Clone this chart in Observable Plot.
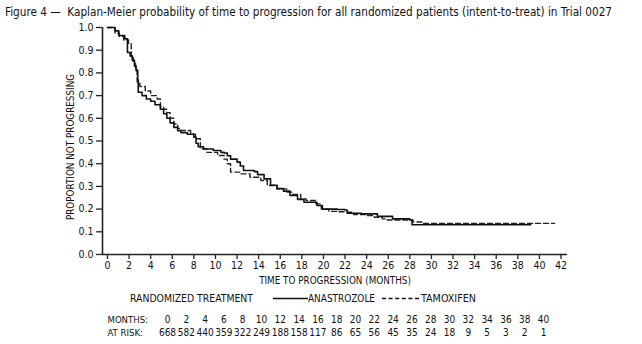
<!DOCTYPE html>
<html><head><meta charset="utf-8">
<script src="https://cdn.jsdelivr.net/npm/d3@7"></script>
<script src="https://cdn.jsdelivr.net/npm/@observablehq/plot@0.6"></script>
<style>
body{margin:0;background:#fff;}
#wrap{position:relative;width:642px;height:344px;overflow:hidden;font-family:"Liberation Sans Narrow","DejaVu Sans Condensed","Arial Narrow",sans-serif;color:#111;}
#title{position:absolute;left:5px;top:4px;font-size:12.5px;white-space:pre;transform-origin:0 0;display:inline-block;}
#chart{position:absolute;left:0;top:0;}
#risk{position:absolute;left:0;top:312px;}
.lg{position:absolute;top:292px;font-size:11px;white-space:pre;transform-origin:0 0;display:inline-block;}
.ls{position:absolute;top:292px;}
</style></head>
<body><div id="wrap">
<div id="title"></div>
<div id="chart"></div>
<span class="lg" id="lg0" style="left:130px"></span>
<svg class="ls" style="left:273px" width="35" height="12"><line x1="0" x2="35" y1="6.5" y2="6.5" stroke="#111" stroke-width="1.3"/></svg>
<span class="lg" id="lg1" style="left:308px"></span>
<svg class="ls" style="left:382px" width="38" height="12"><line x1="0" x2="38" y1="6.5" y2="6.5" stroke="#111" stroke-width="1.3" stroke-dasharray="4,2.6"/></svg>
<span class="lg" id="lg2" style="left:421px"></span>
<div id="risk"></div>
</div>
<script>
const FONT = '"Liberation Sans Narrow","DejaVu Sans Condensed","Arial Narrow",sans-serif';
const titleText = "Figure 4 \u2014  Kaplan-Meier probability of time to progression for all randomized patients (intent-to-treat) in Trial 0027";
const xLabel = "TIME TO PROGRESSION (MONTHS)";
const yLabel = "PROPORTION NOT PROGRESSING";
const legendTitle = "RANDOMIZED TREATMENT";
const seriesNames = ["ANASTROZOLE", "TAMOXIFEN"];

const xTicks = [0,2,4,6,8,10,12,14,16,18,20,22,24,26,28,30,32,34,36,38,40,42];
const yTicks = [0,0.1,0.2,0.3,0.4,0.5,0.6,0.7,0.8,0.9,1.0];

const anaMonths = [0,0.7,1.05,1.6,1.85,2.1,2.3,2.5,2.65,2.8,2.85,3.2,3.6,4.0,4.4,4.9,5.2,5.5,5.8,6.15,6.5,6.8,7.4,8.0,8.2,8.4,8.9,9.8,10.5,10.8,11.1,11.4,12.0,12.3,12.6,13.6,13.9,14.5,15.1,15.7,16.3,16.9,17.6,18.2,19.4,19.9,21.3,22.0,22.2,23.5,25.0,26.4,28.0,28.2,39.2];
const anaSurv   = [1.0,0.985,0.965,0.95,0.89,0.875,0.855,0.83,0.81,0.77,0.715,0.70,0.685,0.675,0.66,0.64,0.62,0.60,0.58,0.56,0.545,0.537,0.53,0.517,0.49,0.475,0.465,0.458,0.45,0.447,0.435,0.42,0.407,0.39,0.37,0.365,0.352,0.333,0.305,0.29,0.279,0.26,0.243,0.23,0.216,0.20,0.198,0.196,0.182,0.179,0.168,0.157,0.152,0.131,0.131];

const tamMonths = [0,0.7,1.1,1.5,1.95,2.2,2.4,2.6,2.75,3.0,3.5,4.0,4.6,4.9,5.2,5.5,5.8,6.15,6.5,6.8,7.7,8.15,8.6,9.2,10.2,10.8,11.1,11.4,12.3,13.2,14.2,14.8,15.7,16.6,17.1,17.9,18.4,19.3,19.8,20.5,21.3,22.2,22.8,23.9,24.7,25.45,25.9,28.3,29.2,41.4];
const tamSurv   = [1.0,0.975,0.96,0.945,0.93,0.87,0.85,0.82,0.76,0.74,0.72,0.70,0.685,0.65,0.64,0.625,0.60,0.575,0.555,0.546,0.53,0.51,0.466,0.45,0.436,0.42,0.40,0.363,0.355,0.34,0.326,0.304,0.289,0.275,0.264,0.245,0.238,0.223,0.20,0.19,0.188,0.186,0.176,0.172,0.164,0.157,0.152,0.143,0.137,0.137];

const riskMonths = [0,2,4,6,8,10,12,14,16,18,20,22,24,26,28,30,32,34,36,38,40];
const atRisk     = [668,582,440,359,322,249,188,158,117,86,65,56,45,35,24,18,9,5,3,2,1];
const riskRowLabels = ["MONTHS:", "AT RISK:"];

function fitWidth(el, w) {
  const cur = el.getBoundingClientRect().width;
  if (cur > 0) el.style.transform = `scaleX(${w / cur})`;
}
const t = document.getElementById("title"); t.textContent = titleText; fitWidth(t, 607);
const l0 = document.getElementById("lg0"); l0.textContent = legendTitle; fitWidth(l0, 123);
const l1 = document.getElementById("lg1"); l1.textContent = seriesNames[0]; fitWidth(l1, 67);
const l2 = document.getElementById("lg2"); l2.textContent = seriesNames[1]; fitWidth(l2, 55);

const ana = anaMonths.map((m,i)=>({m, s: anaSurv[i]}));
const tam = tamMonths.map((m,i)=>({m, s: tamSurv[i]}));
const xDom = [-0.46, 42.6];

const chart = Plot.plot({
  width: 642, height: 292,
  marginLeft: 102, marginRight: 75, marginTop: 27, marginBottom: 38,
  style: {fontFamily: FONT, fontSize: "10.5px", color: "#111", background: "transparent"},
  x: {domain: xDom},
  y: {domain: [0, 1]},
  marks: [
    Plot.ruleY([0], {stroke: "#222", strokeWidth: 1.6}),
    Plot.ruleX([xDom[0]], {stroke: "#222", strokeWidth: 1.6}),
    Plot.axisX({ticks: xTicks, tickSize: 5, tickPadding: 2, label: null, stroke: "#222", strokeWidth: 1.3, fill: "#111", fontSize: 10.5}),
    Plot.axisY({ticks: yTicks, tickFormat: d => d.toFixed(1), tickSize: 6, tickPadding: 3, label: null, stroke: "#222", strokeWidth: 1.3, fill: "#111", fontSize: 10.5}),
    Plot.text([xLabel], {frameAnchor: "bottom", dy: 29, fontSize: 9.8, fill: "#111"}),
    Plot.text([yLabel], {frameAnchor: "left", rotate: -90, dx: -32, dy: 6, textAnchor: "middle", fontSize: 9.8, fill: "#111"}),
    Plot.line(tam, {x: "m", y: "s", curve: "step-after", stroke: "#222", strokeWidth: 1.4, strokeDasharray: "5,3"}),
    Plot.line(ana, {x: "m", y: "s", curve: "step-after", stroke: "#111", strokeWidth: 1.6})
  ]
});
document.getElementById("chart").append(chart);

const riskRows = riskMonths.flatMap((m,i)=>[
  {m, row: riskRowLabels[0], t: String(m)},
  {m, row: riskRowLabels[1], t: String(atRisk[i])}
]);
const risk = Plot.plot({
  width: 642, height: 28,
  marginLeft: 167, marginRight: 99, marginTop: 0, marginBottom: 0,
  style: {fontFamily: FONT, fontSize: "10px", color: "#111", background: "transparent", overflow: "visible"},
  x: {domain: [0, 40], axis: null},
  y: {type: "point", domain: riskRowLabels, range: [7, 20], padding: 0, axis: null},
  marks: [
    Plot.text(riskRowLabels, {y: d => d, text: d => d, frameAnchor: "left", dx: -60, textAnchor: "start", fontSize: 9.5, fill: "#111"}),
    Plot.text(riskRows, {x: "m", y: "row", text: "t", fontSize: 10, fill: "#111"})
  ]
});
document.getElementById("risk").append(risk);
</script>
</body></html>
